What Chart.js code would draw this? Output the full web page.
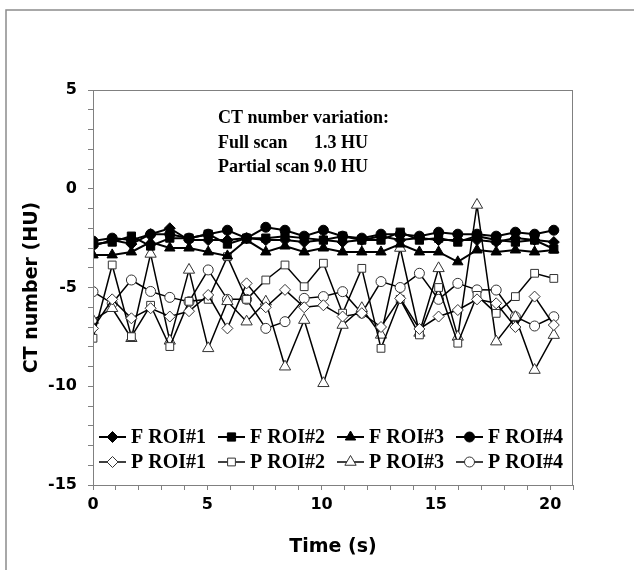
<!DOCTYPE html>
<html><head><meta charset="utf-8">
<script src="https://cdn.jsdelivr.net/npm/chart.js@4.4.1/dist/chart.umd.min.js"></script>
<style>html,body{margin:0;padding:0;background:#fff;}#wrap{width:634px;height:570px;}</style>
</head><body><div id="wrap"><canvas id="c" width="634" height="570"></canvas></div>
<script>
// ---- data ----
const times = [0,0.84,1.68,2.52,3.36,4.2,5.04,5.88,6.72,7.56,8.4,9.24,10.08,10.92,11.76,12.6,13.44,14.28,15.12,15.96,16.8,17.64,18.48,19.32,20.16];
const fRoi1 = [-2.9,-2.6,-2.8,-2.3,-2.0,-2.6,-2.6,-2.6,-2.5,-2.6,-2.6,-2.7,-2.6,-2.7,-2.6,-2.4,-2.6,-2.5,-2.6,-2.6,-2.6,-2.7,-2.5,-2.6,-2.7];
const fRoi2 = [-2.8,-2.7,-2.4,-2.9,-2.5,-2.5,-2.3,-2.8,-2.5,-2.5,-2.4,-2.5,-2.6,-2.4,-2.6,-2.6,-2.2,-2.6,-2.5,-2.7,-2.4,-2.6,-2.7,-2.6,-3.05];
const fRoi3 = [-3.35,-3.35,-3.2,-2.7,-3.0,-3.0,-3.2,-3.4,-2.6,-3.2,-2.9,-3.2,-3.0,-3.2,-3.2,-3.2,-2.8,-3.2,-3.2,-3.7,-3.1,-3.2,-3.1,-3.2,-3.1];
const fRoi4 = [-2.65,-2.5,-2.6,-2.3,-2.3,-2.5,-2.3,-2.1,-2.5,-1.95,-2.1,-2.4,-2.1,-2.4,-2.5,-2.3,-2.3,-2.4,-2.2,-2.3,-2.3,-2.4,-2.2,-2.3,-2.1];
const pRoi1 = [-7.07,-5.6,-6.56,-6.05,-6.47,-6.2,-5.38,-7.07,-4.79,-6.0,-5.12,-6.0,-5.9,-6.47,-6.3,-7.0,-5.55,-7.1,-6.47,-6.14,-5.6,-5.8,-7.0,-5.46,-6.9];
const pRoi2 = [-7.57,-3.86,-7.49,-5.9,-7.99,-5.7,-5.6,-3.44,-5.6,-4.62,-3.86,-4.96,-3.77,-6.3,-4.03,-8.08,-5.6,-7.4,-5.0,-7.82,-5.4,-6.31,-5.46,-4.28,-4.54];
const pRoi3 = [-6.65,-6.05,-7.57,-3.3,-7.7,-4.11,-8.08,-5.7,-6.73,-5.72,-9.01,-6.65,-9.85,-6.9,-6.05,-7.4,-3.0,-7.3,-4.03,-7.5,-0.82,-7.74,-6.5,-9.18,-7.41];
const pRoi4 = [-5.21,-5.8,-4.62,-5.2,-5.5,-5.72,-4.11,-5.6,-5.6,-7.07,-6.73,-5.55,-5.46,-5.21,-6.3,-4.7,-5.0,-4.28,-5.6,-4.79,-5.12,-5.13,-6.48,-6.95,-6.48];
const seriesLabels = ['F ROI#1','F ROI#2','F ROI#3','F ROI#4','P ROI#1','P ROI#2','P ROI#3','P ROI#4'];
const xTickLabels = [0,5,10,15,20];
const yTickLabels = [-15,-10,-5,0,5];
const noteLines = ['CT number variation:', 'Full scan', 'Partial scan 9.0 HU'];
const noteFull = '1.3 HU';

const allValues = [fRoi1,fRoi2,fRoi3,fRoi4,pRoi1,pRoi2,pRoi3,pRoi4];
const styles = [
  {ps:'rectRot', r:5.5, fill:'#000', lw:2},
  {ps:'rect', r:5.8, fill:'#000', lw:2},
  {ps:'triangle', r:6, fill:'#000', lw:2},
  {ps:'circle', r:5, fill:'#000', lw:2},
  {ps:'rectRot', r:5.5, fill:'#fff', lw:1.5},
  {ps:'rect', r:5.5, fill:'#fff', lw:1.5},
  {ps:'triangle', r:6.5, fill:'#fff', lw:1.5},
  {ps:'circle', r:5, fill:'#fff', lw:1.5}
];

const datasets = allValues.map((vals, i) => ({
  label: seriesLabels[i],
  data: vals.map((v, j) => ({x: times[j], y: v})),
  borderColor: '#000',
  borderWidth: styles[i].lw,
  pointStyle: styles[i].ps,
  pointRadius: styles[i].r,
  pointBackgroundColor: styles[i].fill,
  pointBorderColor: i < 4 ? '#000' : '#333',
  pointBorderWidth: 1,
  tension: 0,
  fill: false
}));

function drawMarker(ctx, ps, x, y, r, fill, stroke) {
  ctx.save();
  ctx.beginPath();
  if (ps === 'circle') ctx.arc(x, y, r, 0, Math.PI * 2);
  else if (ps === 'rect') { const s = r * Math.SQRT1_2; ctx.rect(x - s, y - s, 2 * s, 2 * s); }
  else if (ps === 'rectRot') { ctx.moveTo(x, y - r); ctx.lineTo(x + r, y); ctx.lineTo(x, y + r); ctx.lineTo(x - r, y); ctx.closePath(); }
  else if (ps === 'triangle') {
    let a = 0; ctx.moveTo(x + Math.sin(a) * r, y - Math.cos(a) * r);
    a += 2 * Math.PI / 3; ctx.lineTo(x + Math.sin(a) * r, y - Math.cos(a) * r);
    a += 2 * Math.PI / 3; ctx.lineTo(x + Math.sin(a) * r, y - Math.cos(a) * r);
    ctx.closePath();
  }
  ctx.fillStyle = fill; ctx.fill();
  ctx.strokeStyle = stroke; ctx.lineWidth = 1; ctx.stroke();
  ctx.restore();
}

const decor = {
  id: 'decor',
  beforeDraw(chart) {
    const ctx = chart.ctx;
    ctx.save();
    ctx.fillStyle = '#fff'; ctx.fillRect(0, 0, chart.width, chart.height);
    ctx.strokeStyle = '#8c8c8c'; ctx.lineWidth = 1.5;
    ctx.beginPath(); ctx.moveTo(6, 570); ctx.lineTo(6, 10); ctx.lineTo(634, 10); ctx.stroke();
    ctx.restore();
  },
  afterDraw(chart) {
    const ctx = chart.ctx, a = chart.chartArea;
    ctx.save();
    ctx.strokeStyle = '#808080'; ctx.lineWidth = 1;
    ctx.strokeRect(a.left + 0.5, a.top + 0.5, a.right - a.left - 1, a.bottom - a.top);
    // annotation
    ctx.fillStyle = '#000';
    ctx.font = 'bold 18px "Liberation Serif", "Times New Roman", serif';
    ctx.textBaseline = 'middle'; ctx.textAlign = 'left';
    const nx = 218;
    ctx.fillText(noteLines[0], nx, 118);
    ctx.fillText(noteLines[1], nx, 143);
    ctx.fillText(noteLines[2], nx, 167);
    const w3 = ctx.measureText(noteLines[2]).width;
    ctx.textAlign = 'right';
    ctx.fillText(noteFull, nx + w3, 143);
    // legend
    ctx.font = 'bold 20px "Liberation Serif", "Times New Roman", serif';
    ctx.textAlign = 'left';
    chart.data.datasets.forEach((ds, i) => {
      const row = i < 4 ? 0 : 1, col = i % 4;
      const x0 = 99 + col * 119, y0 = row === 0 ? 437 : 462;
      ctx.strokeStyle = '#000'; ctx.lineWidth = ds.borderWidth;
      ctx.beginPath(); ctx.moveTo(x0, y0); ctx.lineTo(x0 + 27, y0); ctx.stroke();
      drawMarker(ctx, ds.pointStyle, x0 + 13.5, y0, ds.pointRadius, ds.pointBackgroundColor, ds.pointBorderColor);
      ctx.fillStyle = '#000';
      ctx.fillText(ds.label, x0 + 32, y0 + 1);
    });
    ctx.restore();
  }
};

new Chart(document.getElementById('c'), {
  type: 'line',
  data: {datasets},
  plugins: [decor],
  options: {
    responsive: false,
    animation: false,
    devicePixelRatio: 1,
    layout: {padding: {left: 0, top: 90, right: 61, bottom: 0}},
    plugins: {legend: {display: false}, tooltip: {enabled: false}},
    scales: {
      x: {
        type: 'linear', min: 0, max: 21,
        afterFit(s) { s.height = 85; },
        ticks: {
          stepSize: 1, autoSkip: false, maxRotation: 0, padding: 5, color: '#000',
          font: {family: '"DejaVu Sans", Verdana, sans-serif', size: 16, weight: 'bold'},
          callback: v => xTickLabels.includes(v) ? String(v) : ''
        },
        grid: {drawOnChartArea: false, drawTicks: true, tickLength: 5, color: '#808080'},
        border: {color: '#808080'},
        title: {display: true, text: 'Time (s)', color: '#000',
          font: {family: '"DejaVu Sans", Verdana, sans-serif', size: 19, weight: 'bold'},
          padding: {top: 0, bottom: 12}}
      },
      y: {
        type: 'linear', min: -15, max: 5,
        afterFit(s) { s.width = 93; },
        ticks: {
          stepSize: 1, autoSkip: false, padding: 11, color: '#000',
          font: {family: '"DejaVu Sans", Verdana, sans-serif', size: 16, weight: 'bold'},
          callback: v => yTickLabels.includes(v) ? String(v) : ''
        },
        grid: {drawOnChartArea: false, drawTicks: true, tickLength: 5, color: '#808080'},
        border: {color: '#808080'},
        title: {display: true, text: 'CT number (HU)', color: '#000',
          font: {family: '"DejaVu Sans", Verdana, sans-serif', size: 19, weight: 'bold'},
          padding: {top: 21, bottom: 0}}
      }
    }
  }
});
</script></body></html>
